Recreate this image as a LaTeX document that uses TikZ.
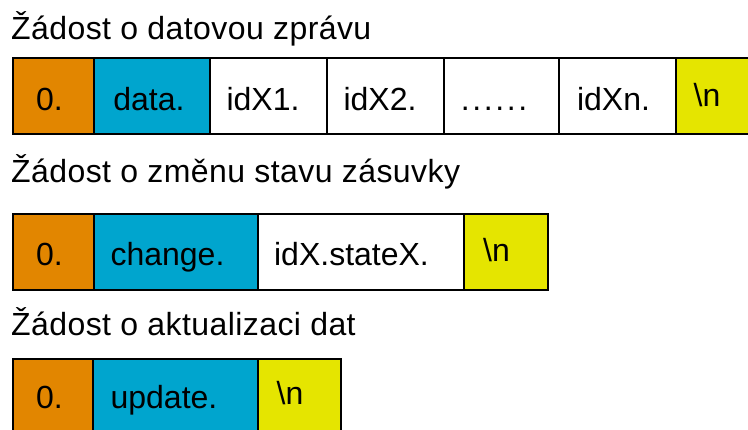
\documentclass[tikz,border=0pt]{standalone}
\usepackage{fontspec}
\setmainfont{Liberation Sans}
\newfontfamily\titlefont[LetterSpace=1.3]{Liberation Sans}
\definecolor{orangeC}{RGB}{226,134,0}
\definecolor{blueC}{RGB}{0,165,206}
\definecolor{yellowC}{RGB}{229,229,0}
\newcommand{\dotrow}{.\kern2.6pt.\kern2.6pt.\kern2.6pt.\kern2.6pt.\kern2.6pt.}
\begin{document}
\begin{tikzpicture}[x=1pt,y=-1pt,
  cell/.style={draw=black, line width=1.6pt, anchor=north west, inner sep=0pt,
    minimum height=76pt},
  lbl/.style={anchor=base, inner sep=0pt, font=\fontsize{32}{36}\selectfont},
  title/.style={anchor=base west, inner sep=0pt, font=\titlefont\fontsize{32}{36}\selectfont}]
\useasboundingbox (0,0) rectangle (748,429);
\clip (0,0) rectangle (748,429);
% row 1
\node[title] (t1) at (11,39) {Žádost o datovou zprávu};
\node[cell, fill=orangeC, minimum width=81pt] (a1) at (12,57) {};
\node[cell, fill=blueC, minimum width=116pt] (a2) at (93,57) {};
\node[cell, fill=white, minimum width=117pt] (a3) at (209,57) {};
\node[cell, fill=white, minimum width=117pt] (a4) at (326,57) {};
\node[cell, fill=white, minimum width=115pt] (a5) at (443,57) {};
\node[cell, fill=white, minimum width=117pt] (a6) at (558,57) {};
\node[cell, fill=yellowC, minimum width=90pt] (a7) at (675,57) {};
\node[lbl] (la1) at (49.5,110) {0.};
\node[lbl] (la2) at (149,110) {data.};
\node[lbl] (la3) at (263,110) {idX1.};
\node[lbl] (la4) at (380,110) {idX2.};
\node[lbl] (la5) at (494,110) {\dotrow};
\node[lbl] (la6) at (613.5,110) {idXn.};
\node[lbl] (la7) at (707,106) {\textbackslash n};
% row 2
\node[title] (t2) at (11,182) {Žádost o změnu stavu zásuvky};
\node[cell, fill=orangeC, minimum width=81pt] (b1) at (12,213) {};
\node[cell, fill=blueC, minimum width=164pt] (b2) at (93,213) {};
\node[cell, fill=white, minimum width=206pt] (b3) at (257,213) {};
\node[cell, fill=yellowC, minimum width=84pt] (b4) at (463,213) {};
\node[lbl] (lb1) at (49.5,265) {0.};
\node[lbl] (lb2) at (167.5,265) {change.};
\node[lbl] (lb3) at (351.5,265) {idX.stateX.};
\node[lbl] (lb4) at (496.5,261) {\textbackslash n};
% row 3
\node[title] (t3) at (11,335) {Žádost o aktualizaci dat};
\node[cell, fill=orangeC, minimum width=80pt] (c1) at (12,358) {};
\node[cell, fill=blueC, minimum width=165pt] (c2) at (92,358) {};
\node[cell, fill=yellowC, minimum width=83pt] (c3) at (257,358) {};
\node[lbl] (lc1) at (49.5,408) {0.};
\node[lbl] (lc2) at (164,408) {update.};
\node[lbl] (lc3) at (290,404) {\textbackslash n};
\end{tikzpicture}
\end{document}
